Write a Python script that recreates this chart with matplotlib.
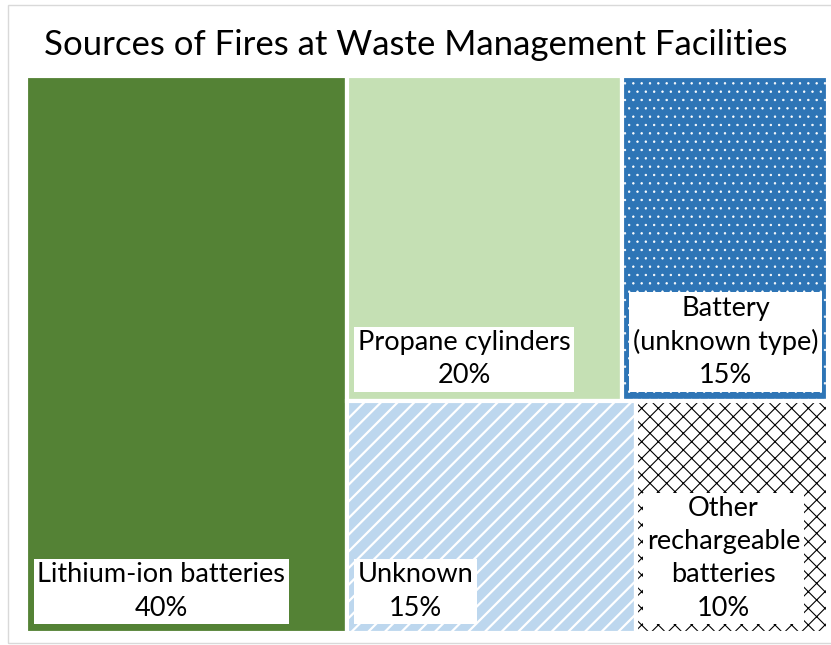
import matplotlib
matplotlib.use("Agg")
import matplotlib.pyplot as plt
from matplotlib.patches import Rectangle

# data
categories = ["Lithium-ion batteries", "Propane cylinders", "Battery\n(unknown type)",
              "Unknown", "Other\nrechargeable\nbatteries"]
shares = [40, 20, 15, 15, 10]
colors = ["#548235", "#C5E0B4", "#2E75B6", "#BDD7EE", "#FFFFFF"]
hatches = [None, None, "..", "//", "xx"]
hatch_colors = [None, None, "white", "white", "black"]
hatch_widths = [0, 0, 0.5, 1.6, 0.8]

plt.rcParams["font.family"] = ["Lato", "DejaVu Sans"]

fig = plt.figure(figsize=(8.31, 6.45), dpi=100)
ax = fig.add_axes([26 / 831, 1 - 633 / 645, (828 - 26) / 831, (633 - 76) / 645])
ax.set_xlim(0, 100)
ax.set_ylim(0, 100)
ax.axis("off")

# fixed treemap layout: first item fills a column, rest split in two rows
total = sum(shares)
w0 = shares[0] / total * 100
rest = total - shares[0]
top = shares[1] + shares[2]
bot = shares[3] + shares[4]
h_top = top / rest * 100
rects = [
    (0, 0, w0, 100),
    (w0, 100 - h_top, (100 - w0) * shares[1] / top, h_top),
    (w0 + (100 - w0) * shares[1] / top, 100 - h_top, (100 - w0) * shares[2] / top, h_top),
    (w0, 0, (100 - w0) * shares[3] / bot, 100 - h_top),
    (w0 + (100 - w0) * shares[3] / bot, 0, (100 - w0) * shares[4] / bot, 100 - h_top),
]

for (x, y, w, h), cat, val, c, hat, hc, hw in zip(rects, categories, shares, colors,
                                                   hatches, hatch_colors, hatch_widths):
    if hat:
        with plt.rc_context({"hatch.linewidth": hw}):
            p = Rectangle((x, y), w, h, facecolor=c, edgecolor=hc, hatch=hat, linewidth=0)
            ax.add_patch(p)
    else:
        ax.add_patch(Rectangle((x, y), w, h, facecolor=c, linewidth=0))
    ax.add_patch(Rectangle((x, y), w, h, fill=False, edgecolor="white", linewidth=3))
    ax.annotate(f"{cat}\n{val}%", xy=(x, y), xytext=(8, 9), textcoords="offset points",
                ha="left", va="bottom", multialignment="center", fontsize=19.5,
                linespacing=1.4, color="black",
                bbox=dict(facecolor="white", edgecolor="none", pad=2.5))

fig.text(0.5, 1 - 45 / 645, "Sources of Fires at Waste Management Facilities",
         ha="center", va="center", fontsize=25, color="black")

fig.patches.append(Rectangle((8 / 831, 2 / 645), 830 / 831, 638 / 645, transform=fig.transFigure,
                             fill=False, edgecolor="#D9D9D9", linewidth=1))

fig.savefig("out.png", dpi=100)
